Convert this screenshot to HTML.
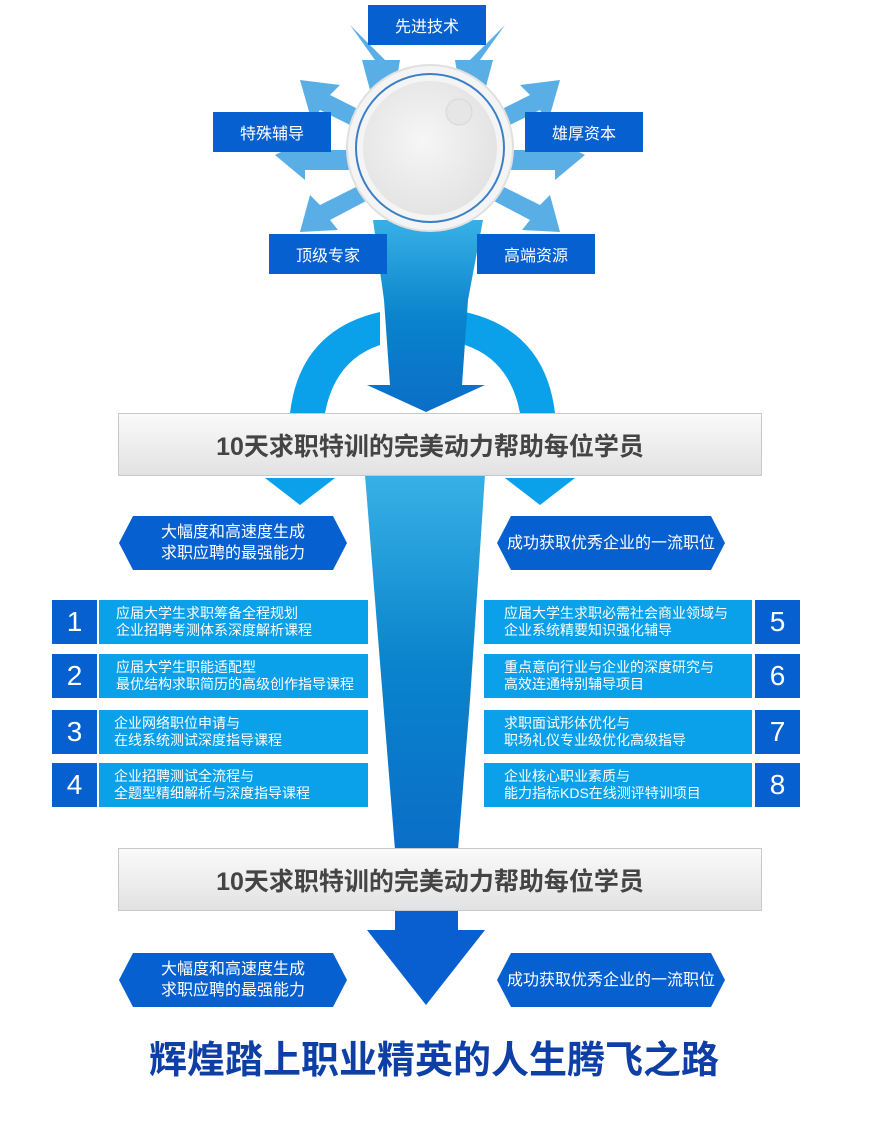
<!DOCTYPE html>
<html><head><meta charset="utf-8"><style>
*{margin:0;padding:0;box-sizing:border-box}
body{width:880px;height:1123px;background:#fff;position:relative;overflow:hidden;font-family:"Liberation Sans","Noto Sans CJK SC",sans-serif}
.a{position:absolute}
.lb{position:absolute;background:#0660cf;color:#fff;font-size:16px;display:flex;align-items:center;justify-content:center;width:118px;height:40px}
.ban{position:absolute;left:118px;width:644px;height:63px;background:linear-gradient(#fafafa,#e2e2e2);border:1px solid #c8c8c8;display:flex;align-items:center;justify-content:center;font-size:25px;font-weight:bold;color:#444;padding-right:20px}
.hex{position:absolute;width:228px;height:54px;background:#0660cf;color:#fff;font-size:16px;line-height:21px;display:flex;align-items:center;justify-content:center;text-align:center;clip-path:polygon(14px 0,calc(100% - 14px) 0,100% 50%,calc(100% - 14px) 100%,14px 100%,0 50%)}
.num{position:absolute;width:45px;height:44px;background:#0660cf;color:#fff;font-size:28px;display:flex;align-items:center;justify-content:center}
.txt{position:absolute;height:44px;background:#0aa0ea;color:#fff;font-size:14px;line-height:17px;display:flex;flex-direction:column;justify-content:center}
</style></head><body>
<svg class="a" style="left:0;top:0" width="880" height="1123">
<defs>
<linearGradient id="st" x1="0" y1="0" x2="0" y2="1"><stop offset="0" stop-color="#38b0e6"/><stop offset=".5" stop-color="#0a84cc"/><stop offset="1" stop-color="#0a6ec8"/></linearGradient>
<radialGradient id="kn" cx=".45" cy=".45" r=".6"><stop offset="0" stop-color="#f6f6f6"/><stop offset="1" stop-color="#e2e2e2"/></radialGradient>
</defs>
<g fill="#5aaee6">
<polygon points="350,25 375,60 362,60 370,90 395,90 400,60 385,60"/>
<polygon points="505,25 480,60 493,60 485,90 460,90 455,60 470,60"/>
<polygon points="300,80 340,85 330,95 370,115 360,130 320,110 312,122"/>
<polygon points="560,80 520,85 530,95 490,115 500,130 540,110 548,122"/>
<polygon points="275,155 305,140 305,150 360,150 360,170 305,170 305,180"/>
<polygon points="585,155 555,140 555,150 500,150 500,170 555,170 555,180"/>
<polygon points="300,232 310,195 320,205 360,185 368,200 330,220 338,230"/>
<polygon points="560,232 550,195 540,205 500,185 492,200 530,220 522,230"/>
</g>
<path d="M290,413 Q300,330 380,312 L380,345 Q335,360 325,413 Z" fill="#0aa0ea"/>
<path d="M555,413 Q545,330 465,312 L465,345 Q510,360 520,413 Z" fill="#0aa0ea"/>
<path d="M373,220 L483,220 L468,300 L462,385 L485,385 L426,412 L367,385 L390,385 L384,300 Z" fill="url(#st)"/>
<path d="M365,475 L485,475 L470,700 L458,850 L395,850 L383,700 Z" fill="url(#st)"/>
<polygon points="265,478 335,478 300,505" fill="#0aa0ea"/>
<polygon points="505,478 575,478 540,505" fill="#0aa0ea"/>
<path d="M395,910 L458,910 L458,930 L485,930 L426,1005 L367,930 L395,930 Z" fill="#0a5fd0"/>
<circle cx="430" cy="148" r="83" fill="#f4f4f4" stroke="#e0e0e0" stroke-width="2"/>
<circle cx="430" cy="148" r="74" fill="none" stroke="#3a80c8" stroke-width="2"/>
<circle cx="430" cy="148" r="67" fill="url(#kn)"/>
<circle cx="459" cy="112" r="13" fill="#e6e6e6" stroke="#d6d6d6"/>
</svg>
<div class="lb" style="left:368px;top:5px">先进技术</div>
<div class="lb" style="left:213px;top:112px">特殊辅导</div>
<div class="lb" style="left:525px;top:112px">雄厚资本</div>
<div class="lb" style="left:269px;top:234px">顶级专家</div>
<div class="lb" style="left:477px;top:234px">高端资源</div>
<div class="ban" style="top:413px">10天求职特训的完美动力帮助每位学员</div>
<div class="hex" style="left:119px;top:516px">大幅度和高速度生成<br>求职应聘的最强能力</div>
<div class="hex" style="left:497px;top:516px">成功获取优秀企业的一流职位</div>

<div class="num" style="left:52px;top:600px">1</div><div class="txt" style="left:99px;top:600px;width:269px;padding-left:17px">应届大学生求职筹备全程规划<br>企业招聘考测体系深度解析课程</div>
<div class="num" style="left:52px;top:654px">2</div><div class="txt" style="left:99px;top:654px;width:269px;padding-left:17px">应届大学生职能适配型<br>最优结构求职简历的高级创作指导课程</div>
<div class="num" style="left:52px;top:710px">3</div><div class="txt" style="left:99px;top:710px;width:269px;padding-left:15px">企业网络职位申请与<br>在线系统测试深度指导课程</div>
<div class="num" style="left:52px;top:763px">4</div><div class="txt" style="left:99px;top:763px;width:269px;padding-left:15px">企业招聘测试全流程与<br>全题型精细解析与深度指导课程</div>

<div class="txt" style="left:484px;top:600px;width:268px;padding-left:20px">应届大学生求职必需社会商业领域与<br>企业系统精要知识强化辅导</div><div class="num" style="left:755px;top:600px">5</div>
<div class="txt" style="left:484px;top:654px;width:268px;padding-left:20px">重点意向行业与企业的深度研究与<br>高效连通特别辅导项目</div><div class="num" style="left:755px;top:654px">6</div>
<div class="txt" style="left:484px;top:710px;width:268px;padding-left:20px">求职面试形体优化与<br>职场礼仪专业级优化高级指导</div><div class="num" style="left:755px;top:710px">7</div>
<div class="txt" style="left:484px;top:763px;width:268px;padding-left:20px">企业核心职业素质与<br>能力指标KDS在线测评特训项目</div><div class="num" style="left:755px;top:763px">8</div>

<div class="ban" style="top:848px">10天求职特训的完美动力帮助每位学员</div>
<div class="hex" style="left:119px;top:953px">大幅度和高速度生成<br>求职应聘的最强能力</div>
<div class="hex" style="left:497px;top:953px">成功获取优秀企业的一流职位</div>
<div class="a" style="left:0;width:868px;top:1036px;text-align:center;font-size:38px;font-weight:bold;color:#0d3fa6;line-height:50px">辉煌踏上职业精英的人生腾飞之路</div>
</body></html>
